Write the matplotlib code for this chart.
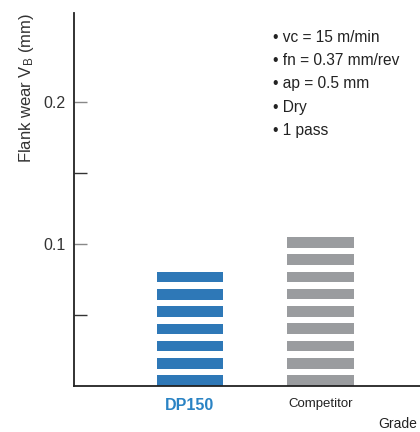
import math
import matplotlib
matplotlib.use("Agg")
import matplotlib.pyplot as plt

# data
grades = ["DP150", "Competitor"]
wear = [0.0805, 0.105]          # flank wear VB (mm)
colors = ["#2e78b7", "#9a9c9f"]
conditions = ["vc = 15 m/min", "fn = 0.37 mm/rev", "ap = 0.5 mm", "Dry", "1 pass"]
major_ticks = [0.1, 0.2]
minor_ticks = [0.05, 0.15]

plt.rcParams["font.family"] = ["Liberation Sans", "DejaVu Sans"]
plt.rcParams["mathtext.default"] = "regular"

fig = plt.figure(figsize=(4.2, 4.32), dpi=100)
ax = fig.add_axes([0.176, 0.1065, 0.824, 0.8635])

# striped bars: solid bands separated by white gaps
period = 0.0122
gap = 0.0047
width = 0.506
for i, (v, c) in enumerate(zip(wear, colors)):
    n = round((v + gap) / period)
    band = (v - (n - 1) * gap) / n
    for k in range(n):
        ax.bar(i, band, bottom=k * (band + gap), width=width, color=c, linewidth=0)

ax.set_xlim(-0.889, 1.762)
ax.set_ylim(0, 0.2627)

for s in ["top", "right"]:
    ax.spines[s].set_visible(False)
for s in ["left", "bottom"]:
    ax.spines[s].set_linewidth(1.3)
    ax.spines[s].set_color("#222222")

ax.set_yticks(major_ticks)
ax.set_yticklabels(["0.1", "0.2"], fontsize=11.5, color="#333333")
ax.set_yticks(minor_ticks, minor=True)
ax.tick_params(axis="y", which="major", direction="in", length=9.5, width=1, color="#888888", pad=6)
ax.tick_params(axis="y", which="minor", direction="in", length=9.5, width=1, color="#333333")

ax.set_xticks(range(len(grades)))
ax.set_xticklabels(grades)
ax.tick_params(axis="x", length=0, pad=9)
lbls = ax.get_xticklabels()
lbls[0].set_fontsize(11.5)
lbls[0].set_fontweight("bold")
lbls[0].set_color("#2a83c4")
lbls[1].set_fontsize(9.5)
lbls[1].set_color("#222222")

ax.set_ylabel("Flank wear V$_{B}$ (mm)", fontsize=12, color="#333333", loc="top")
ax.yaxis.set_label_coords(-0.11, 1.0)

ax.text(0.879, -0.102, "Grade", transform=ax.transAxes, fontsize=10,
        color="#222222", ha="left", va="center", clip_on=False)

for j, t in enumerate(conditions):
    ax.text(0.575, 0.933 - j * 0.0617, "\u2022 " + t, transform=ax.transAxes,
            fontsize=11.2, color="#222222", ha="left", va="center")

fig.savefig("out.png", dpi=100)
